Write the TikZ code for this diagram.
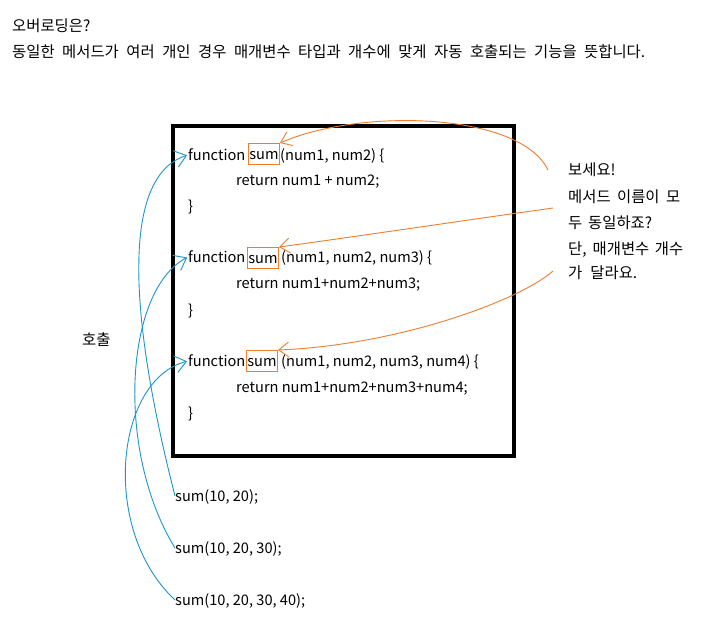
\documentclass[tikz,border=0pt]{standalone}
\usepackage{fontspec}
\setmainfont{Noto Sans CJK KR}
\newfontfamily\kofont{Noto Sans CJK KR}
\newcommand\kosetup{\kofont\fontsize{15.4}{17}\selectfont}
\usetikzlibrary{arrows.meta}
\definecolor{callblue}{RGB}{30,150,200}
\definecolor{noteorange}{RGB}{237,125,49}
\begin{document}
\begin{tikzpicture}[x=1pt,y=-1pt,
  code/.style={anchor=west,inner sep=0pt,text height=10pt,text depth=0pt,font=\fontsize{14.6}{16}\selectfont},
  ko/.style={anchor=west,inner sep=0pt,text height=11pt,text depth=0pt,font=\kosetup},
  sumbox/.style={anchor=west,draw=noteorange,line width=1pt,inner sep=0pt,minimum width=31pt,minimum height=21pt,text height=10pt,text depth=0pt,font=\fontsize{14.6}{16}\selectfont},
  callarrow/.style={draw=callblue,line width=0.9pt,-{Straight Barb[length=11pt,width=17pt]},shorten >=1pt},
  notearrow/.style={draw=noteorange,line width=0.9pt,-{Straight Barb[length=10pt,width=15pt]}},
  frame/.style={draw=black,line width=3.5pt}]
\useasboundingbox[fill=white] (0,0) rectangle (720,622);
% title
\node[ko] (t1) at (12,26) {오버로딩은?};
\node[ko] (t2) at (12,52) {\hbox to 633pt{동일한 메서드가 여러 개인 경우 매개변수 타입과 개수에 맞게 자동 호출되는 기능을 뜻합니다.}};
% code frame
\draw[frame] (173,126) rectangle (514,456);
% function 1
\node[code] (f1) at (188,155) {function};
\node[sumbox] (s1) at (248,154) {sum};
\node[code] (p1) at (280,155) {(num1, num2) \{};
\node[code] (r1) at (236,180) {return num1 + num2;};
\node[code] (b1) at (188,206) {\}};
% function 2
\node[code] (f2) at (188,257) {function};
\node[sumbox] (s2) at (247,258) {sum};
\node[code] (p2) at (281,257) {(num1, num2, num3) \{};
\node[code] (r2) at (236,283) {return num1+num2+num3;};
\node[code] (b2) at (188,310) {\}};
% function 3
\node[code] (f3) at (188,361) {function};
\node[sumbox] (s3) at (246,361) {sum};
\node[code] (p3) at (281,361) {(num1, num2, num3, num4) \{};
\node[code] (r3) at (236,387) {return num1+num2+num3+num4;};
\node[code] (b3) at (188,413) {\}};
% calls
\node[code] (c1) at (175,496) {sum(10, 20);};
\node[code] (c2) at (175,548) {sum(10, 20, 30);};
\node[code] (c3) at (175,600) {sum(10, 20, 30, 40);};
\node[ko] (call) at (82,340) {호출};
% note
\node[ko] (n1) at (568,170) {보세요!};
\node[ko] (n2) at (568,197) {\hbox to 112pt{메서드 이름이 모}};
\node[ko] (n3) at (568,223) {\hbox to 84pt{두 동일하죠?}};
\node[ko] (n4) at (568,249) {\hbox to 115pt{단, 매개변수 개수}};
\node[ko] (n5) at (568,273) {\hbox to 69pt{가 달라요.}};
\coordinate (o1) at (548,170);
\coordinate (o2) at (553,208);
\coordinate (o3) at (553,271);
% orange arrows
\draw[notearrow] (o1) .. controls (520,112) and (360,108) .. (s1.north east);
\draw[notearrow] (o2) .. controls (460,221) and (360,236) .. (s2.north east);
\draw[notearrow] (o3) .. controls (520,300) and (400,345) .. (s3.north east);
% blue arrows
\draw[callarrow] (c1.west) .. controls (125,300) and (125,175) .. (f1.west);
\draw[callarrow] (c2.west) .. controls (115,450) and (125,290) .. (f2.west);
\draw[callarrow] (c3.west) .. controls (100,530) and (115,380) .. (f3.west);
\end{tikzpicture}
\end{document}
